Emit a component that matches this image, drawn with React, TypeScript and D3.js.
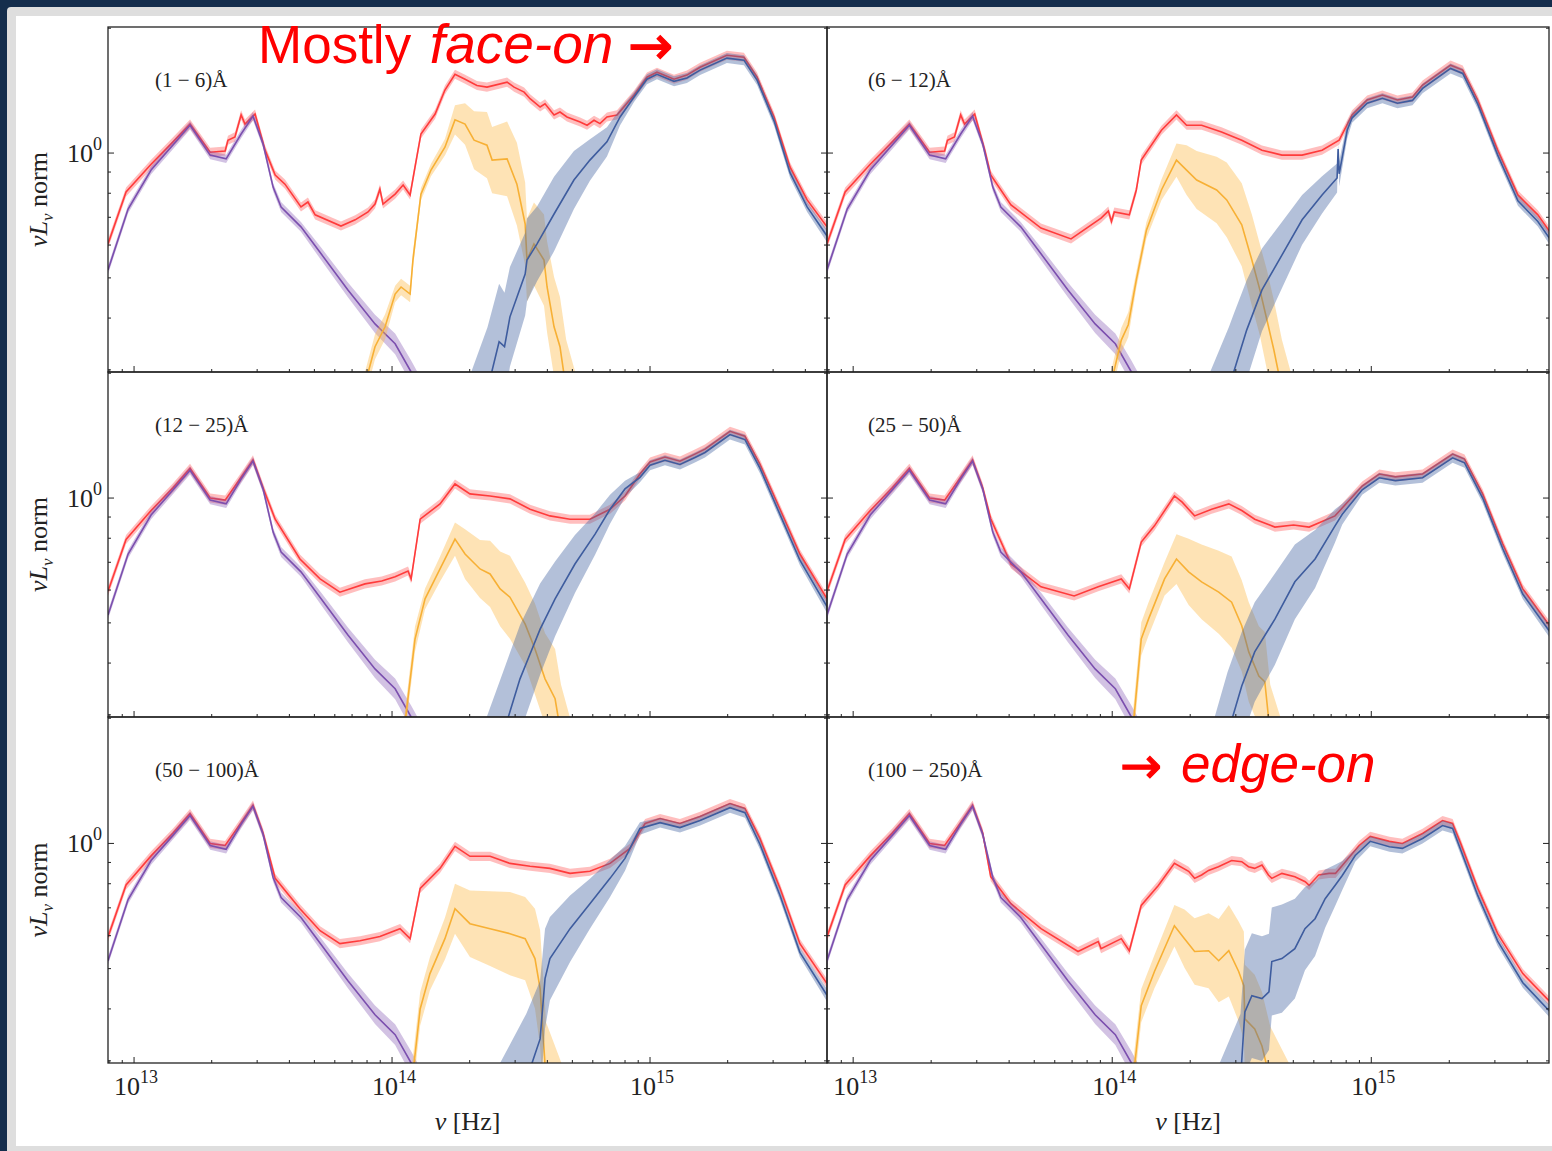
import * as d3 from "d3";

// each point: [log10 nu (Hz), log10 nuL_nu norm] ; band points add a half width in dex
type Pt = [number, number];
type BPt = [number, number, number];

const X_DOMAIN: [number, number] = [10 ** 12.899, 10 ** 15.686];
const Y_DOMAIN: [number, number] = [10 ** -0.528, 10 ** 0.304];

const panelLabels = ["(1 − 6)Å", "(6 − 12)Å", "(12 − 25)Å", "(25 − 50)Å", "(50 − 100)Å", "(100 − 250)Å"];
const xMajorTicks = [13, 14, 15];

// low-frequency part of the red curve, panels 1-2 and 3-6
const redLowA: Pt[] = [
  [12.899, -0.219], [12.969, -0.094], [13.066, -0.027], [13.151, 0.027], [13.217, 0.07],
  [13.295, 0.002], [13.353, 0.005], [13.364, 0.031], [13.391, 0.039], [13.415, 0.092],
  [13.43, 0.07], [13.469, 0.094], [13.508, 0.007],
];
const redLowB: Pt[] = [
  [12.899, -0.225], [12.969, -0.1], [13.066, -0.03], [13.151, 0.025], [13.217, 0.072],
  [13.295, 0.0], [13.353, -0.005], [13.415, 0.05], [13.461, 0.092], [13.5, 0.025],
];

const purple: BPt[] = [
  [12.899, -0.282, 0.01], [12.977, -0.135, 0.01], [13.066, -0.041, 0.01], [13.143, 0.014, 0.01],
  [13.217, 0.067, 0.01], [13.295, -0.005, 0.01], [13.357, -0.014, 0.01], [13.415, 0.046, 0.01],
  [13.461, 0.089, 0.01], [13.5, 0.022, 0.01], [13.539, -0.082, 0.01], [13.57, -0.13, 0.012],
  [13.647, -0.178, 0.012], [13.725, -0.243, 0.015], [13.829, -0.33, 0.018], [13.934, -0.412, 0.022],
  [14.012, -0.46, 0.025], [14.074, -0.528, 0.028], [14.109, -0.57, 0.03],
];

const redTail1: Pt[] = [
  [13.547, -0.053], [13.585, -0.075], [13.647, -0.13], [13.674, -0.118], [13.702, -0.149],
  [13.802, -0.176], [13.857, -0.161], [13.907, -0.142], [13.934, -0.123], [13.953, -0.087],
  [13.965, -0.123], [14.012, -0.099], [14.043, -0.077], [14.07, -0.101], [14.089, -0.034],
  [14.112, 0.046], [14.167, 0.094], [14.205, 0.152], [14.244, 0.19], [14.283, 0.178],
  [14.329, 0.163], [14.368, 0.159], [14.446, 0.171], [14.473, 0.159], [14.512, 0.147],
  [14.535, 0.131], [14.574, 0.111], [14.593, 0.119], [14.628, 0.092], [14.651, 0.099],
  [14.678, 0.087], [14.729, 0.075], [14.756, 0.067], [14.783, 0.079], [14.806, 0.071],
  [14.833, 0.087], [14.872, 0.092], [14.938, 0.14], [14.988, 0.183], [15.027, 0.195],
  [15.093, 0.178], [15.143, 0.188], [15.194, 0.207], [15.298, 0.236], [15.364, 0.231],
  [15.415, 0.183], [15.481, 0.087], [15.543, -0.034], [15.609, -0.113], [15.686, -0.178],
];
const redTail2: Pt[] = [
  [13.531, -0.053], [13.609, -0.125], [13.725, -0.181], [13.841, -0.207], [13.957, -0.157],
  [13.985, -0.14], [13.997, -0.165], [14.008, -0.142], [14.066, -0.149], [14.093, -0.089],
  [14.112, -0.017], [14.19, 0.055], [14.248, 0.092], [14.287, 0.067], [14.345, 0.067],
  [14.422, 0.051], [14.5, 0.031], [14.578, 0.007], [14.655, -0.005], [14.733, -0.005],
  [14.81, 0.007], [14.876, 0.031], [14.926, 0.092], [14.984, 0.128], [15.043, 0.14],
  [15.101, 0.128], [15.159, 0.135], [15.198, 0.164], [15.306, 0.212], [15.353, 0.2],
  [15.411, 0.128], [15.488, 0.007], [15.566, -0.101], [15.643, -0.149], [15.698, -0.198],
];
const redTail3: Pt[] = [
  [13.547, -0.051], [13.643, -0.147], [13.721, -0.195], [13.798, -0.227], [13.895, -0.207],
  [13.96, -0.2], [14.012, -0.19], [14.062, -0.176], [14.074, -0.195], [14.109, -0.051],
  [14.186, -0.014], [14.244, 0.034], [14.302, 0.01], [14.38, 0.005], [14.457, -0.002],
  [14.535, -0.027], [14.612, -0.043], [14.69, -0.051], [14.767, -0.051], [14.845, -0.027],
  [14.903, 0.005], [14.961, 0.058], [15.0, 0.087], [15.058, 0.099], [15.116, 0.089],
  [15.174, 0.106], [15.213, 0.118], [15.31, 0.161], [15.368, 0.149], [15.426, 0.082],
  [15.504, -0.027], [15.581, -0.135], [15.686, -0.243],
];
const redTail4: Pt[] = [
  [13.531, -0.05], [13.609, -0.159], [13.725, -0.214], [13.853, -0.236], [13.946, -0.214],
  [14.035, -0.195], [14.066, -0.219], [14.112, -0.106], [14.163, -0.067], [14.24, 0.005],
  [14.27, -0.01], [14.318, -0.043], [14.384, -0.027], [14.45, -0.014], [14.5, -0.03],
  [14.55, -0.051], [14.628, -0.07], [14.7, -0.065], [14.76, -0.07], [14.86, -0.043],
  [14.965, 0.029], [15.031, 0.058], [15.093, 0.051], [15.198, 0.058], [15.314, 0.106],
  [15.36, 0.094], [15.43, 0.01], [15.508, -0.111], [15.585, -0.219], [15.698, -0.316],
];
const redTail5: Pt[] = [
  [13.547, -0.084], [13.643, -0.157], [13.721, -0.21], [13.798, -0.241], [13.876, -0.234],
  [13.953, -0.224], [14.031, -0.205], [14.07, -0.229], [14.109, -0.108], [14.186, -0.06],
  [14.244, -0.007], [14.302, -0.031], [14.38, -0.031], [14.457, -0.048], [14.535, -0.055],
  [14.612, -0.06], [14.69, -0.072], [14.767, -0.067], [14.845, -0.048], [14.922, -0.012],
  [14.981, 0.048], [15.039, 0.06], [15.116, 0.048], [15.194, 0.065], [15.31, 0.096],
  [15.368, 0.084], [15.426, 0.012], [15.504, -0.108], [15.581, -0.241], [15.686, -0.337],
];
const redTail6: Pt[] = [
  [13.531, -0.08], [13.609, -0.145], [13.725, -0.205], [13.868, -0.26], [13.946, -0.236],
  [13.957, -0.253], [14.035, -0.229], [14.066, -0.258], [14.112, -0.149], [14.178, -0.101],
  [14.24, -0.048], [14.295, -0.067], [14.318, -0.084], [14.345, -0.076], [14.372, -0.065],
  [14.41, -0.056], [14.461, -0.041], [14.5, -0.044], [14.526, -0.056], [14.55, -0.06],
  [14.578, -0.052], [14.603, -0.076], [14.616, -0.084], [14.655, -0.072], [14.705, -0.08],
  [14.745, -0.092], [14.76, -0.101], [14.797, -0.076], [14.837, -0.072], [14.862, -0.072],
  [14.888, -0.053], [14.953, -0.005], [14.996, 0.017], [15.07, 0.005], [15.12, 0.0],
  [15.198, 0.024], [15.275, 0.055], [15.314, 0.048], [15.345, 0.0], [15.411, -0.108],
  [15.488, -0.217], [15.585, -0.313], [15.698, -0.386],
];

const orange1: BPt[] = [
  [13.89, -0.57, 0.03], [13.934, -0.467, 0.03], [13.973, -0.419, 0.03], [14.012, -0.34, 0.02],
  [14.035, -0.323, 0.02], [14.07, -0.34, 0.02], [14.081, -0.258, 0.02], [14.112, -0.099, 0.015],
  [14.151, -0.041, 0.015], [14.205, 0.014, 0.02], [14.244, 0.08, 0.035], [14.283, 0.07, 0.05],
  [14.318, 0.031, 0.07], [14.368, 0.019, 0.08], [14.388, -0.017, 0.08], [14.446, -0.014, 0.09],
  [14.484, -0.075, 0.1], [14.516, -0.171, 0.1], [14.523, -0.258, 0.1], [14.55, -0.219, 0.1],
  [14.589, -0.258, 0.11], [14.601, -0.323, 0.11], [14.628, -0.419, 0.12], [14.651, -0.467, 0.12],
  [14.675, -0.57, 0.12], [14.72, -0.68, 0.13],
];
const orange2: BPt[] = [
  [13.99, -0.57, 0.03], [14.035, -0.451, 0.03], [14.062, -0.414, 0.03], [14.093, -0.306, 0.02],
  [14.132, -0.186, 0.02], [14.19, -0.089, 0.025], [14.248, -0.017, 0.04], [14.287, -0.041, 0.06],
  [14.326, -0.065, 0.07], [14.403, -0.089, 0.08], [14.442, -0.113, 0.09], [14.5, -0.173, 0.1],
  [14.539, -0.258, 0.11], [14.57, -0.33, 0.11], [14.597, -0.402, 0.12], [14.624, -0.475, 0.12],
  [14.655, -0.57, 0.12], [14.69, -0.66, 0.13],
];
const orange3: BPt[] = [
  [14.045, -0.57, 0.03], [14.089, -0.34, 0.03], [14.128, -0.243, 0.025], [14.186, -0.171, 0.03],
  [14.244, -0.099, 0.04], [14.283, -0.135, 0.06], [14.341, -0.171, 0.07], [14.38, -0.183, 0.08],
  [14.419, -0.219, 0.09], [14.457, -0.239, 0.1], [14.516, -0.304, 0.1], [14.554, -0.364, 0.11],
  [14.593, -0.436, 0.11], [14.632, -0.484, 0.12], [14.655, -0.57, 0.12], [14.69, -0.66, 0.13],
];
const orange4: BPt[] = [
  [14.078, -0.57, 0.04], [14.112, -0.34, 0.04], [14.14, -0.292, 0.04], [14.202, -0.195, 0.04],
  [14.248, -0.147, 0.06], [14.295, -0.178, 0.08], [14.345, -0.202, 0.09], [14.411, -0.227, 0.1],
  [14.461, -0.251, 0.11], [14.5, -0.308, 0.11], [14.527, -0.371, 0.12], [14.566, -0.429, 0.12],
  [14.589, -0.443, 0.12], [14.61, -0.57, 0.12], [14.65, -0.66, 0.13],
];
const orange5: BPt[] = [
  [14.078, -0.57, 0.04], [14.109, -0.398, 0.04], [14.147, -0.313, 0.04], [14.205, -0.229, 0.05],
  [14.244, -0.157, 0.06], [14.302, -0.193, 0.08], [14.38, -0.205, 0.09], [14.457, -0.217, 0.1],
  [14.516, -0.229, 0.1], [14.554, -0.277, 0.12], [14.574, -0.349, 0.14], [14.597, -0.57, 0.14],
  [14.67, -0.7, 0.15],
];
const orange6: BPt[] = [
  [14.08, -0.57, 0.04], [14.112, -0.39, 0.04], [14.163, -0.308, 0.04], [14.24, -0.198, 0.05],
  [14.279, -0.229, 0.07], [14.318, -0.26, 0.08], [14.372, -0.258, 0.09], [14.411, -0.282, 0.1],
  [14.45, -0.258, 0.11], [14.488, -0.308, 0.12], [14.508, -0.342, 0.13], [14.512, -0.422, 0.13],
  [14.55, -0.446, 0.13], [14.578, -0.487, 0.13], [14.61, -0.57, 0.13], [14.7, -0.7, 0.15],
];

const blue1: BPt[] = [
  [14.3, -0.72, 0.18], [14.37, -0.57, 0.15], [14.415, -0.455, 0.14], [14.436, -0.467, 0.13],
  [14.457, -0.395, 0.12], [14.516, -0.292, 0.1], [14.523, -0.258, 0.1], [14.562, -0.219, 0.09],
  [14.628, -0.147, 0.09], [14.705, -0.065, 0.07], [14.767, -0.017, 0.05], [14.833, 0.027, 0.035],
  [14.884, 0.087, 0.02], [14.938, 0.135, 0.012], [14.988, 0.178, 0.012], [15.027, 0.19, 0.012],
  [15.093, 0.173, 0.012], [15.143, 0.181, 0.012], [15.194, 0.2, 0.012], [15.298, 0.229, 0.012],
  [15.364, 0.224, 0.012], [15.415, 0.176, 0.012], [15.481, 0.077, 0.012], [15.543, -0.048, 0.012],
  [15.609, -0.13, 0.012], [15.686, -0.2, 0.015],
];
const blue2: BPt[] = [
  [14.37, -0.72, 0.18], [14.45, -0.57, 0.15], [14.469, -0.528, 0.14], [14.519, -0.427, 0.12],
  [14.578, -0.33, 0.1], [14.655, -0.246, 0.08], [14.733, -0.161, 0.06], [14.81, -0.101, 0.045],
  [14.868, -0.06, 0.035], [14.872, 0.01, 0.01], [14.876, -0.05, 0.03], [14.907, 0.055, 0.02],
  [14.926, 0.085, 0.012], [14.984, 0.12, 0.012], [15.043, 0.132, 0.012], [15.101, 0.12, 0.012],
  [15.159, 0.127, 0.012], [15.198, 0.156, 0.012], [15.306, 0.204, 0.012], [15.353, 0.192, 0.012],
  [15.411, 0.118, 0.012], [15.488, -0.005, 0.012], [15.566, -0.115, 0.012], [15.643, -0.165, 0.012],
  [15.698, -0.215, 0.015],
];
const blue3: BPt[] = [
  [14.36, -0.72, 0.18], [14.43, -0.57, 0.15], [14.496, -0.436, 0.13], [14.535, -0.376, 0.12],
  [14.574, -0.316, 0.11], [14.632, -0.243, 0.09], [14.709, -0.159, 0.07], [14.787, -0.087, 0.05],
  [14.845, -0.027, 0.035], [14.903, 0.022, 0.02], [14.961, 0.05, 0.012], [15.0, 0.079, 0.012],
  [15.058, 0.091, 0.012], [15.116, 0.081, 0.012], [15.174, 0.098, 0.012], [15.213, 0.11, 0.012],
  [15.31, 0.153, 0.012], [15.368, 0.141, 0.012], [15.426, 0.072, 0.012], [15.504, -0.04, 0.012],
  [15.581, -0.15, 0.012], [15.686, -0.262, 0.015],
];
const blue4: BPt[] = [
  [14.39, -0.72, 0.18], [14.445, -0.57, 0.15], [14.5, -0.453, 0.13], [14.55, -0.371, 0.12],
  [14.628, -0.292, 0.11], [14.705, -0.202, 0.09], [14.783, -0.147, 0.07], [14.86, -0.067, 0.04],
  [14.888, -0.039, 0.025], [14.965, 0.02, 0.012], [15.031, 0.049, 0.012], [15.093, 0.042, 0.012],
  [15.198, 0.049, 0.012], [15.314, 0.097, 0.012], [15.36, 0.085, 0.012], [15.43, 0.0, 0.012],
  [15.508, -0.123, 0.012], [15.585, -0.232, 0.012], [15.698, -0.33, 0.015],
];
const blue5: BPt[] = [
  [14.4, -0.75, 0.2], [14.52, -0.57, 0.16], [14.574, -0.47, 0.14], [14.593, -0.325, 0.12],
  [14.612, -0.277, 0.1], [14.69, -0.205, 0.08], [14.767, -0.145, 0.06], [14.845, -0.084, 0.045],
  [14.903, -0.036, 0.03], [14.961, 0.036, 0.015], [15.039, 0.05, 0.012], [15.116, 0.038, 0.012],
  [15.194, 0.055, 0.012], [15.31, 0.086, 0.012], [15.368, 0.074, 0.012], [15.426, -0.002, 0.012],
  [15.504, -0.125, 0.012], [15.581, -0.262, 0.012], [15.686, -0.365, 0.015],
];
const blue6: BPt[] = [
  [14.4, -0.75, 0.2], [14.495, -0.57, 0.16], [14.512, -0.405, 0.15], [14.539, -0.366, 0.15],
  [14.578, -0.373, 0.15], [14.605, -0.357, 0.14], [14.616, -0.284, 0.13], [14.655, -0.277, 0.13],
  [14.705, -0.253, 0.12], [14.744, -0.205, 0.1], [14.783, -0.181, 0.09], [14.822, -0.133, 0.07],
  [14.86, -0.101, 0.05], [14.888, -0.077, 0.035], [14.938, -0.029, 0.015], [14.996, 0.005, 0.012],
  [15.07, -0.008, 0.012], [15.12, -0.012, 0.012], [15.198, 0.012, 0.012], [15.275, 0.043, 0.012],
  [15.314, 0.036, 0.012], [15.345, -0.015, 0.012], [15.411, -0.125, 0.012], [15.488, -0.235, 0.012],
  [15.585, -0.335, 0.012], [15.698, -0.41, 0.015],
];

const reds: Pt[][] = [
  [...redLowA, ...redTail1], [...redLowA, ...redTail2],
  [...redLowB, ...redTail3], [...redLowB, ...redTail4],
  [...redLowB, ...redTail5], [...redLowB, ...redTail6],
];
const oranges = [orange1, orange2, orange3, orange4, orange5, orange6];
const blues = [blue1, blue2, blue3, blue4, blue5, blue6];

const serif = "'Liberation Serif', 'Times New Roman', serif";
const sans = "'Liberation Sans', Arial, sans-serif";
const arrowFont = "'DejaVu Sans', sans-serif";

interface PanelProps {
  i: number;
  x0: number;
  x1: number;
  y0: number;
  y1: number;
}

const Panel = ({ i, x0, x1, y0, y1 }: PanelProps) => {
  const x = d3.scaleLog().domain(X_DOMAIN).range([x0, x1]);
  const y = d3.scaleLog().domain(Y_DOMAIN).range([y1, y0]);
  const line = d3
    .line<number[]>()
    .x((d) => x(10 ** d[0]))
    .y((d) => y(10 ** d[1]));
  const band = d3
    .area<number[]>()
    .x((d) => x(10 ** d[0]))
    .y0((d) => y(10 ** (d[1] - d[2])))
    .y1((d) => y(10 ** (d[1] + d[2])));

  const red = reds[i];
  const redBand = red.map((d) => [d[0], d[1], 0.011]);
  const clipId = `clip${i}`;
  const left = i % 2 === 0;
  const bottom = i >= 4;

  const xTicks = x.ticks();
  const yTicks = y.ticks();

  return (
    <g>
      <clipPath id={clipId}>
        <rect x={x0} y={y0} width={x1 - x0} height={y1 - y0} />
      </clipPath>
      <g clipPath={`url(#${clipId})`}>
        <path d={band(redBand) ?? ""} fill="rgba(255,70,70,0.35)" />
        <path d={line(red) ?? ""} fill="none" stroke="#ff3b3b" strokeWidth={1.6} />
        <path d={band(purple) ?? ""} fill="rgba(125,80,175,0.35)" />
        <path d={line(purple) ?? ""} fill="none" stroke="#7b4fae" strokeWidth={1.6} />
        <path d={band(oranges[i]) ?? ""} fill="rgba(253,185,70,0.4)" />
        <path d={line(oranges[i]) ?? ""} fill="none" stroke="#f7b035" strokeWidth={1.6} />
        <path d={band(blues[i]) ?? ""} fill="rgba(75,105,165,0.42)" />
        <path d={line(blues[i]) ?? ""} fill="none" stroke="#3e5c9e" strokeWidth={1.6} />
      </g>
      <rect x={x0} y={y0} width={x1 - x0} height={y1 - y0} fill="none" stroke="#222" strokeWidth={1.3} />
      {xTicks.map((t, k) => {
        const major = Math.abs(Math.log10(t) - Math.round(Math.log10(t))) < 1e-6;
        return (
          <line key={`xt${k}`} x1={x(t)} x2={x(t)} y1={y1} y2={y1 - (major ? 6 : 3)} stroke="#222" strokeWidth={1} />
        );
      })}
      {yTicks.map((t, k) => {
        const major = Math.abs(Math.log10(t)) < 1e-6;
        const len = major ? 6 : 3;
        return (
          <g key={`yt${k}`}>
            <line x1={x0} x2={x0 + len} y1={y(t)} y2={y(t)} stroke="#222" strokeWidth={1} />
            <line x1={x1} x2={x1 - len} y1={y(t)} y2={y(t)} stroke="#222" strokeWidth={1} />
          </g>
        );
      })}
      <text x={x0 + (left ? 47 : 41)} y={y0 + 60} fontFamily={serif} fontSize={21} fill="#222" xmlSpace="preserve">
        {panelLabels[i]}
      </text>
      {left && (
        <>
          <text x={x0 - 6} y={y(1) + 9} textAnchor="end" fontFamily={serif} fontSize={26} fill="#222">
            10<tspan dy={-12} fontSize={18}>0</tspan>
          </text>
          <text
            transform={`translate(47,${(y0 + y1) / 2}) rotate(-90)`}
            textAnchor="middle"
            fontFamily={serif}
            fontSize={26}
            fill="#222"
          >
            <tspan fontStyle="italic">νL</tspan>
            <tspan fontStyle="italic" fontSize={17} dy={6}>ν</tspan>
            <tspan dy={-6}> norm</tspan>
          </text>
        </>
      )}
      {bottom && (
        <>
          {xMajorTicks.map((e) => (
            <text key={e} x={x(10 ** e) + 2} y={y1 + 32} textAnchor="middle" fontFamily={serif} fontSize={26} fill="#222">
              10<tspan dy={-12} fontSize={18}>{e}</tspan>
            </text>
          ))}
          <text x={(x0 + x1) / 2} y={y1 + 67} textAnchor="middle" fontFamily={serif} fontSize={26} fill="#222">
            <tspan fontStyle="italic">ν</tspan> [Hz]
          </text>
        </>
      )}
    </g>
  );
};

const cols = [
  [108, 827],
  [827, 1549],
];
const rows = [
  [27, 372],
  [372, 717],
  [717, 1063],
];

export default function App() {
  return (
    <div style={{ position: "absolute", left: 0, top: 0 }}>
      <svg width={1552} height={1151} viewBox="0 0 1552 1151">
        <rect x={0} y={0} width={1552} height={1151} fill="#142d4c" />
        <rect x={7} y={7} width={1552} height={1151} rx={4} fill="#dedede" />
        <rect x={16} y={16} width={1540} height={1130} fill="#ffffff" />
        {[0, 1, 2, 3, 4, 5].map((i) => {
          const c = cols[i % 2];
          const r = rows[Math.floor(i / 2)];
          return <Panel key={i} i={i} x0={c[0]} x1={c[1]} y0={r[0]} y1={r[1]} />;
        })}
        <text x={258} y={63} fontFamily={sans} fontSize={53} fill="#ff0000">
          Mostly <tspan fontStyle="italic" fontSize={55} dx={4}>face-on</tspan>
        </text>
        <text x={628} y={64} fontFamily={arrowFont} fontSize={54} fill="#ff0000" stroke="#ff0000" strokeWidth={1.2}>
          →
        </text>
        <text x={1120} y={783} fontFamily={arrowFont} fontSize={50} fill="#ff0000" stroke="#ff0000" strokeWidth={1.2}>
          →
        </text>
        <text x={1181} y={782} fontFamily={sans} fontSize={53} fill="#ff0000" fontStyle="italic">
          edge-on
        </text>
      </svg>
    </div>
  );
}
